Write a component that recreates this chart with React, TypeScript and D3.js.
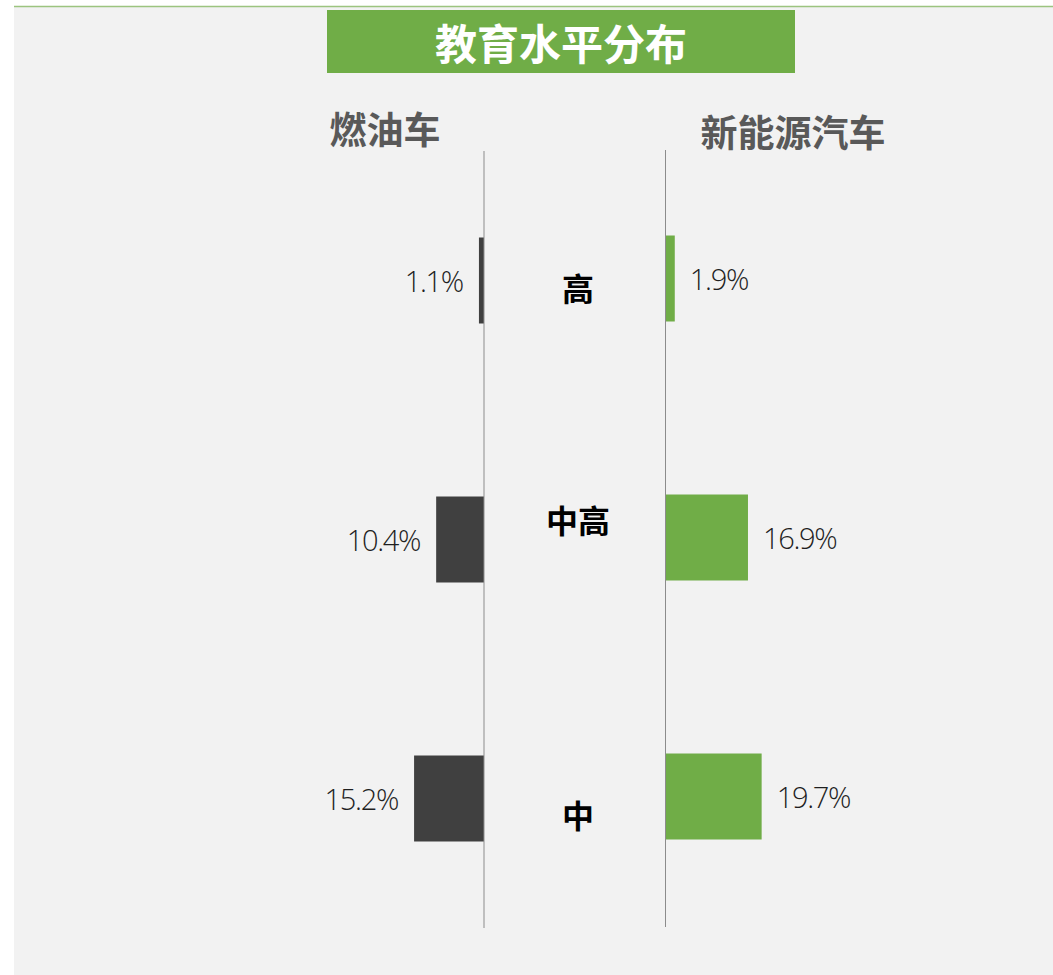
import React from "react";
import * as d3 from "d3";

const categories = ["高", "中高", "中"];
const fuelValues = [1.1, 10.4, 15.2];
const nevValues = [1.9, 16.9, 19.7];
const title = "教育水平分布";
const fuelTitle = "燃油车";
const nevTitle = "新能源汽车";

const W = 1053;
const H = 975;
const LEFT_AXIS = 484;
const RIGHT_AXIS = 665.5;
const CJK = "'Noto Sans CJK SC', 'Noto Sans', sans-serif";
const NUM = "'Open Sans', 'Noto Sans', sans-serif";
const catDy = [6, -21, 15];

export default function App() {
  const yLeft = d3.scaleBand<string>().domain(categories).range([151, 928]).paddingInner(0.668).paddingOuter(0.334);
  const yRight = d3.scaleBand<string>().domain(categories).range([149, 926]).paddingInner(0.668).paddingOuter(0.334);
  const xLeft = d3.scaleLinear().domain([0, 20]).range([0, 92]);
  const xRight = d3.scaleLinear().domain([0, 20]).range([0, 97.6]);
  const yMid = d3.scaleBand<string>().domain(categories).range([151, 928]);

  return (
    <svg width={W} height={H} style={{ position: "absolute", left: 0, top: 0 }}>
      <rect x={0} y={0} width={W} height={H} fill="#ffffff" />
      <rect x={14} y={7} width={W - 14} height={H - 7} fill="#f2f2f2" />
      <line x1={14} x2={W} y1={6.5} y2={6.5} stroke="#9cc47f" strokeWidth={1.5} />
      <rect x={327} y={10} width={468} height={63} fill="#70ad47" />
      <text x={561} y={41} textAnchor="middle" dominantBaseline="central" fill="#ffffff"
        fontFamily={CJK} fontWeight={700} fontSize={42}>{title}</text>
      <text x={385} y={128} textAnchor="middle" dominantBaseline="central" fill="#595959"
        fontFamily={CJK} fontWeight={700} fontSize={37}>{fuelTitle}</text>
      <text x={793} y={131} textAnchor="middle" dominantBaseline="central" fill="#595959"
        fontFamily={CJK} fontWeight={700} fontSize={37}>{nevTitle}</text>

      {categories.map((c, i) => {
        const w = xLeft(fuelValues[i]);
        const y = yLeft(c)!;
        const h = yLeft.bandwidth();
        return (
          <g key={"l" + c}>
            <rect x={LEFT_AXIS - w} y={y} width={w} height={h} fill="#404040" />
            <text x={LEFT_AXIS - w - 16} y={y + h / 2} textAnchor="end" dominantBaseline="central"
              fill="#1f1f1f" fontFamily={NUM} fontWeight={300} fontSize={29} letterSpacing={-1.3}>
              {fuelValues[i].toFixed(1) + "%"}
            </text>
          </g>
        );
      })}
      {categories.map((c, i) => {
        const w = xRight(nevValues[i]);
        const y = yRight(c)!;
        const h = yRight.bandwidth();
        return (
          <g key={"r" + c}>
            <rect x={RIGHT_AXIS} y={y} width={w} height={h} fill="#70ad47" />
            <text x={RIGHT_AXIS + w + 15} y={y + h / 2} textAnchor="start" dominantBaseline="central"
              fill="#1f1f1f" fontFamily={NUM} fontWeight={300} fontSize={29} letterSpacing={-1.3}>
              {nevValues[i].toFixed(1) + "%"}
            </text>
          </g>
        );
      })}
      {categories.map((c, i) => (
        <text key={"c" + c} x={578} y={yMid(c)! + yMid.bandwidth() / 2 + catDy[i]} textAnchor="middle"
          dominantBaseline="central" fill="#000000" fontFamily={CJK} fontWeight={700} fontSize={32}>
          {c}
        </text>
      ))}

      <line x1={LEFT_AXIS} x2={LEFT_AXIS} y1={151} y2={928} stroke="#8c8c8c" strokeWidth={1} />
      <line x1={RIGHT_AXIS} x2={RIGHT_AXIS} y1={150} y2={927} stroke="#8c8c8c" strokeWidth={1} />
    </svg>
  );
}
